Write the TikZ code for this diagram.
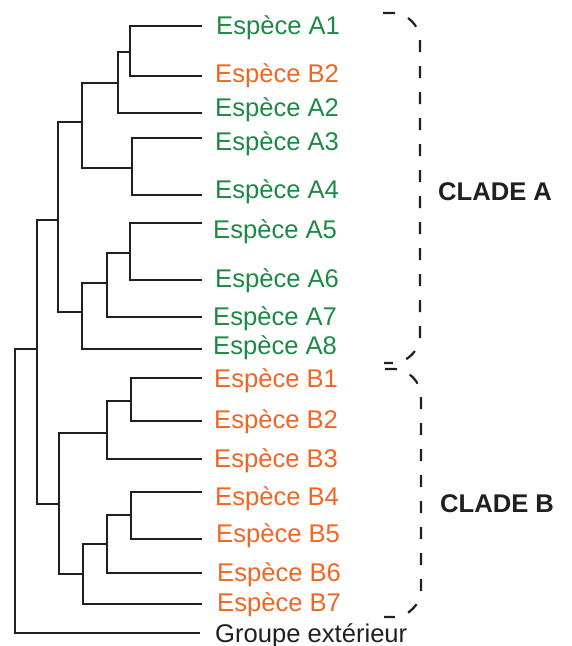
\documentclass[tikz,border=0pt]{standalone}
\usepackage{fontspec}
\setmainfont{Liberation Sans}
\definecolor{spgreen}{RGB}{28,138,68}
\definecolor{sporange}{RGB}{242,101,34}
\definecolor{ink}{RGB}{35,31,32}
\begin{document}
\begin{tikzpicture}[x=1pt,y=-1pt,
  branch/.style={draw=ink,line width=2.4pt,line cap=butt,line join=miter},
  lbl/.style={anchor=base west,inner sep=0pt,font=\fontsize{25.6}{30}\selectfont},
  ga/.style={lbl,text=spgreen},
  ob/.style={lbl,text=sporange},
  cladelbl/.style={anchor=base west,inner sep=0pt,text=ink,font=\fontsize{25.6}{30}\selectfont\bfseries},
  bracket/.style={draw=ink,line width=2.2pt,dash pattern=on 12pt off 14pt,rounded corners=28pt}]
\useasboundingbox (0,0) rectangle (571,646);
% leaf tips
\coordinate (lA1) at (202,26);
\coordinate (lB2a) at (202,76);
\coordinate (lA2) at (202,113);
\coordinate (lA3) at (202,138);
\coordinate (lA4) at (202,195);
\coordinate (lA5) at (202,223);
\coordinate (lA6) at (202,280);
\coordinate (lA7) at (202,317);
\coordinate (lA8) at (202,349);
\coordinate (lB1) at (202,378);
\coordinate (lB2) at (202,421);
\coordinate (lB3) at (202,459);
\coordinate (lB4) at (202,492);
\coordinate (lB5) at (202,539);
\coordinate (lB6) at (202,573);
\coordinate (lB7) at (202,604);
\coordinate (lOut) at (200,633);
% internal nodes
\coordinate (n1) at (130,52);
\coordinate (n2) at (118,83);
\coordinate (n3) at (132,168);
\coordinate (n4) at (82,122);
\coordinate (n5) at (130,253);
\coordinate (n6) at (107,283);
\coordinate (n7) at (82,312);
\coordinate (n8) at (58,220);
\coordinate (m1) at (131,401);
\coordinate (m2) at (107,433);
\coordinate (m3) at (131,515);
\coordinate (m4) at (107,544);
\coordinate (m5) at (83,574);
\coordinate (m6) at (59,504);
\coordinate (r1) at (37,349);
\coordinate (root) at (15,349);
% branches
\draw[branch] (lA1) -| (n1) |- (lB2a);
\draw[branch] (n1) -| (n2) |- (lA2);
\draw[branch] (lA3) -| (n3) |- (lA4);
\draw[branch] (n2) -| (n4) |- (n3);
\draw[branch] (lA5) -| (n5) |- (lA6);
\draw[branch] (n5) -| (n6) |- (lA7);
\draw[branch] (n6) -| (n7) |- (lA8);
\draw[branch] (n4) -| (n8) |- (n7);
\draw[branch] (lB1) -| (m1) |- (lB2);
\draw[branch] (m1) -| (m2) |- (lB3);
\draw[branch] (lB4) -| (m3) |- (lB5);
\draw[branch] (m3) -| (m4) |- (lB6);
\draw[branch] (m4) -| (m5) |- (lB7);
\draw[branch] (m2) -| (m6) |- (m5);
\draw[branch] (n8) -| (r1) |- (m6);
\draw[branch] (r1) -- (root) |- (lOut);
% labels
\node[ga] (tA1) at (216,34) {Espèce A1};
\node[ob] (tB2a) at (215,82) {Espèce B2};
\node[ga] (tA2) at (215,116) {Espèce A2};
\node[ga] (tA3) at (215,150) {Espèce A3};
\node[ga] (tA4) at (215,198) {Espèce A4};
\node[ga] (tA5) at (213,238) {Espèce A5};
\node[ga] (tA6) at (215,287) {Espèce A6};
\node[ga] (tA7) at (213,325) {Espèce A7};
\node[ga] (tA8) at (213,354) {Espèce A8};
\node[ob] (tB1) at (214,387) {Espèce B1};
\node[ob] (tB2) at (214,428) {Espèce B2};
\node[ob] (tB3) at (214,467) {Espèce B3};
\node[ob] (tB4) at (215,505) {Espèce B4};
\node[ob] (tB5) at (216,542) {Espèce B5};
\node[ob] (tB6) at (217,581) {Espèce B6};
\node[ob] (tB7) at (217,611) {Espèce B7};
\node[lbl,text=ink] (tOut) at (215,642) {Groupe extérieur};
% clade brackets
\draw[bracket] (383,13) -- (420,13) -- (420,363) -- (384,363);
\draw[bracket] (385,369) -- (421,369) -- (421,617) -- (384,617);
\node[cladelbl] (cA) at (438,200) {CLADE A};
\node[cladelbl] (cB) at (440,512) {CLADE B};
\end{tikzpicture}
\end{document}
